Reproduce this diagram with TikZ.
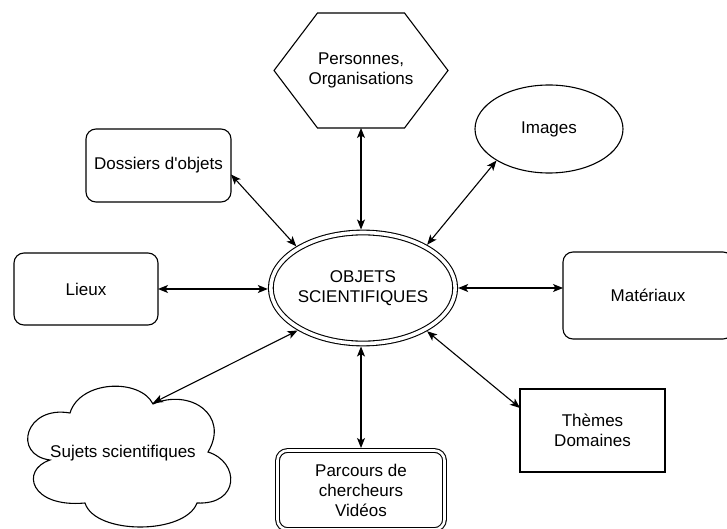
\documentclass[tikz,border=0pt]{standalone}
\usepackage{fontspec}
\setmainfont{Liberation Sans}[Ligatures=TeXOff]
\usetikzlibrary{arrows.meta,shapes.geometric,calc}
\begin{document}
\begin{tikzpicture}[x=1pt,y=-1pt,
  every node/.style={font=\fontsize{17}{20}\selectfont, align=center, inner sep=0pt},
  rbox/.style={draw, line width=1.1pt, rounded corners=10pt, outer sep=0pt},
  sbox/.style={draw, line width=1.1pt, outer sep=0pt},
  conn/.style={line width=1.1pt, {Stealth[length=10pt,width=8pt,inset=2.5pt]}-{Stealth[length=10pt,width=8pt,inset=2.5pt]}}
]
\useasboundingbox (0,0) rectangle (727,529);

% centre
\node[ellipse, draw, line width=1.1pt, double, double distance=3.6pt,
      minimum width=175pt, minimum height=111pt, outer sep=3pt] (obj) at (363,288) {OBJETS\\SCIENTIFIQUES};

% hexagon
\node[minimum width=174pt, minimum height=115pt, outer sep=0pt] (hex) at (361,70.5) {Personnes,\\Organisations};
\draw[line width=1.1pt, line join=miter] (hex.west) -- ($(hex.north)+(-43.5,0)$) -- ($(hex.north)+(43.5,0)$)
  -- (hex.east) -- ($(hex.south)+(43.5,0)$) -- ($(hex.south)+(-43.5,0)$) -- cycle;

% images
\node[ellipse, draw, line width=1.1pt, minimum width=148pt, minimum height=88pt, outer sep=0.5pt] (img) at (549,129) {Images};

% boxes
\node[rbox, minimum width=145pt, minimum height=73pt] (dos) at (158.5,165.5) {Dossiers d'objets};
\node[rbox, minimum width=144pt, minimum height=72pt] (lieux) at (86,289) {Lieux};
\node[rbox, minimum width=170pt, minimum height=87pt] (mat) at (648,295.5) {Matériaux};
\node[sbox, minimum width=145pt, minimum height=83pt] (themes) at (592.5,430.5) {Thèmes\\Domaines};
\node[draw, line width=1.1pt, double, double distance=2.6pt, rounded corners=10pt,
      minimum width=167pt, minimum height=79pt, outer sep=2.5pt] (par) at (361,490) {Parcours de\\chercheurs\\Vidéos};

% cloud
\node (cloud) at (123,453) {Sujets scientifiques};
\coordinate (cloudtop) at (153,403);
\draw[line width=1.1pt] (50,460) .. controls (12,455) and (25,405) .. (70,413)
  .. controls (80,380) and (140,378) .. (153,404)
  .. controls (190,388) and (230,415) .. (208,452)
  .. controls (240,462) and (240,505) .. (197,503)
  .. controls (185,535) and (95,535) .. (85,503)
  .. controls (30,508) and (20,470) .. (50,460) -- cycle;

% connectors
\draw[conn] (hex.south) -- (hex.south |- obj.north);
\draw[conn] ([yshift=-9pt]dos.east) -- (obj.148);
\draw[conn] (img.211) -- (obj.34);
\draw[conn] (lieux.east) -- (lieux.east -| obj.west);
\draw[conn] (obj.east) -- (obj.east -| mat.west);
\draw[conn] (cloudtop) -- (obj.213);
\draw[conn] ([yshift=-19pt]themes.north west) -- (obj.-34);
\draw[conn] (par.north) -- (par.north |- obj.south);
\end{tikzpicture}
\end{document}
